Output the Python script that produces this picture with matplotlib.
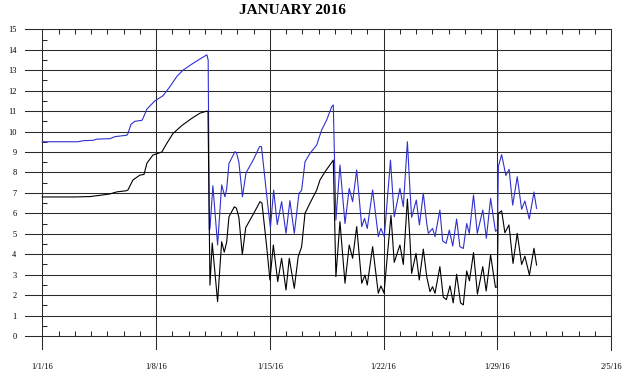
import matplotlib
matplotlib.use("Agg")
import matplotlib.pyplot as plt

# ---- data (days since 1/1/16, values) ----
lower_days = [0.00, 2.01, 2.94, 3.55, 4.17, 4.60, 5.15, 5.27, 5.58, 6.01, 6.26, 6.44, 6.81, 7.36,
              7.67, 8.04, 8.60, 9.21, 9.71, 10.13, 10.20, 10.32, 10.46, 10.79, 11.04, 11.20, 11.35,
              11.49, 11.82, 11.95, 12.10, 12.31, 12.52, 12.98, 13.40, 13.52, 13.81, 14.01, 14.22,
              14.49, 14.73, 15.00, 15.20, 15.51, 15.75, 15.96, 16.17, 16.47, 16.89, 17.09, 17.40,
              17.91, 18.07, 18.32, 18.63, 18.89, 19.10, 19.35, 19.66, 19.86, 20.00, 20.33, 20.68,
              20.84, 21.03, 21.46, 21.66, 22.01, 22.22, 22.47, 22.63, 22.73, 23.00, 23.20, 23.45,
              23.66, 23.86, 24.02, 24.17, 24.47, 24.68, 24.87, 25.09, 25.29, 25.50, 25.74, 25.91,
              26.12, 26.29, 26.54, 26.78, 27.11, 27.32, 27.59, 27.89, 28.00, 28.06, 28.27, 28.47,
              28.72, 28.97, 29.23, 29.50, 29.70, 29.98, 30.26, 30.42]
lower_vals = [6.80, 6.80, 6.82, 6.88, 6.95, 7.05, 7.10, 7.14, 7.63, 7.87, 7.90, 8.45, 8.85, 9.00,
              9.43, 9.90, 10.30, 10.65, 10.90, 11.00, 10.98, 2.49, 4.55, 1.68, 4.61, 4.10, 4.60,
              5.83, 6.32, 6.25, 5.80, 3.98, 5.30, 5.95, 6.57, 6.50, 4.37, 2.74, 4.45,
              2.66, 3.80, 2.25, 3.80, 2.33, 3.88, 4.36, 6.00, 6.49, 7.14, 7.63, 8.03,
              8.60, 2.90, 5.59, 2.58, 4.45, 3.80, 5.35, 2.58, 2.98, 2.49, 4.37, 2.09,
              2.45, 2.10, 5.90, 3.60, 4.45, 3.50, 6.70, 4.69, 3.06, 4.04, 2.74, 4.25,
              2.90, 2.17, 2.41, 2.09, 3.39, 1.90, 1.78, 2.45, 1.62, 3.02, 1.62, 1.52,
              3.18, 2.70, 4.08, 2.05, 3.39, 2.20, 3.96, 2.38, 2.40, 6.00, 6.12, 5.05,
              5.43, 3.55, 5.02, 3.50, 3.90, 2.98, 4.29, 3.47]

upper_days = [0.00, 2.20, 2.51, 3.12, 3.37, 4.17, 4.47, 5.21, 5.27, 5.46, 5.70, 6.14, 6.23, 6.44,
              6.93, 7.43, 7.86, 8.29, 8.66, 9.21, 9.71, 10.13, 10.21, 10.28, 10.32, 10.50, 10.79,
              11.04, 11.24, 11.35, 11.49, 11.86, 11.96, 12.10, 12.32, 12.54, 12.98, 13.37, 13.49,
              13.89, 14.04, 14.24, 14.46, 14.73, 15.00, 15.24, 15.51, 15.80, 15.96, 16.17, 16.47,
              16.89, 17.19, 17.50, 17.81, 17.91, 18.07, 18.32, 18.63, 18.89, 19.10, 19.35, 19.66,
              19.83, 20.00, 20.33, 20.68, 20.84, 21.05, 21.43, 21.66, 22.01, 22.22, 22.47, 22.63,
              22.73, 23.02, 23.21, 23.45, 23.66, 23.76, 24.02, 24.17, 24.47, 24.64, 24.85, 25.05,
              25.26, 25.50, 25.70, 25.91, 26.12, 26.28, 26.54, 26.77, 27.11, 27.33, 27.59, 27.89,
              28.01, 28.07, 28.27, 28.53, 28.73, 28.95, 29.23, 29.50, 29.70, 29.97, 30.26, 30.42]
upper_vals = [9.50, 9.50, 9.55, 9.57, 9.63, 9.65, 9.75, 9.82, 9.90, 10.35, 10.50, 10.55, 10.70, 11.10,
              11.50, 11.75, 12.20, 12.70, 13.00, 13.30, 13.55, 13.75, 13.50, 5.20, 5.26, 7.35, 4.45,
              7.39, 6.81, 7.20, 8.44, 9.02, 8.95, 8.50, 6.81, 7.98, 8.60, 9.26, 9.26,
              6.32, 5.30, 7.14, 5.45, 6.57, 5.02, 6.62, 5.02, 6.98, 7.12, 8.52, 8.93,
              9.34, 10.07, 10.56, 11.21, 11.30, 5.67, 8.36, 5.50, 7.22, 6.57, 8.12, 5.35,
              5.75, 5.26, 7.14, 4.86, 5.26, 4.86, 8.60, 5.83, 7.22, 6.32, 9.50, 7.14,
              5.80, 6.65, 5.43, 6.98, 5.50, 5.02, 5.26, 4.86, 6.16, 4.65, 4.53, 5.18,
              4.40, 5.72, 4.37, 4.28, 5.50, 5.02, 6.90, 5.02, 6.16, 4.78, 6.73, 5.12,
              5.20, 8.30, 8.87, 7.85, 8.15, 6.40, 7.79, 6.20, 6.60, 5.72, 7.04, 6.24]

week_days = [0, 7, 14, 21, 28, 35]
week_labels = ["1/1/16", "1/8/16", "1/15/16", "1/22/16", "1/29/16", "2/5/16"]
y_levels = list(range(0, 16))
title = "JANUARY 2016"

# ---- figure ----
W, H = 624, 376
fig = plt.figure(figsize=(W / 100, H / 100), dpi=100)
left_px, right_px, top_px, bot_px = 25.2, 611.0, 29.3, 350.3
ax = fig.add_axes([left_px / W, 1 - bot_px / H, (right_px - left_px) / W, (bot_px - top_px) / H])

x0, x1 = -1.05, 35.0
y0, y1 = -0.7, 15.0
ax.set_xlim(x0, x1)
ax.set_ylim(y0, y1)

grid_c = "#2a2a2a"
grid_lw = 0.75

# horizontal gridlines
for yv in y_levels:
    ax.axhline(yv, color=grid_c, lw=grid_lw, zorder=1)
# weekly vertical lines
for d in week_days:
    ax.axvline(d, color=grid_c, lw=grid_lw, zorder=1)

# daily minor ticks (top & at zero line)
px_per_day = (right_px - left_px) / (x1 - x0)
px_per_unit = (bot_px - top_px) / (y1 - y0)
tick_len_y = 5 / px_per_unit
tick_len_x = 5 / px_per_day
day_ticks = [d for d in range(1, 35) if d % 7 != 0]
ax.vlines(day_ticks, y1 - tick_len_y, y1, color=grid_c, lw=grid_lw, zorder=1)
ax.vlines(day_ticks, 0, tick_len_y, color=grid_c, lw=grid_lw, zorder=1)
half_levels = [v + 0.5 for v in range(0, 15)]
ax.hlines(half_levels, 0, tick_len_x, color=grid_c, lw=grid_lw, zorder=1)

# data lines
ax.plot(upper_days, upper_vals, color="#3030d0", lw=0.8, zorder=3)
ax.plot(lower_days, lower_vals, color="#000000", lw=0.8, zorder=3)

# spines
for s in ["left", "bottom"]:
    ax.spines[s].set_visible(False)
ax.spines["top"].set_color(grid_c)
ax.spines["top"].set_linewidth(grid_lw)
ax.spines["right"].set_color(grid_c)
ax.spines["right"].set_linewidth(grid_lw)

serif = ["Liberation Serif", "DejaVu Serif"]
ax.set_yticks(y_levels)
ax.set_yticklabels([str(v) for v in y_levels], fontfamily=serif, fontsize=6)
ax.set_xticks(week_days)
ax.set_xticklabels(week_labels, fontfamily=serif, fontsize=6)
ax.tick_params(axis="y", length=0, pad=6.3)
ax.tick_params(axis="x", length=0, pad=9)

fig.text(0.469, 0.972, title, ha="center", va="center", fontfamily=serif,
         fontsize=11, fontweight="bold")

fig.savefig("out.png", dpi=100)
